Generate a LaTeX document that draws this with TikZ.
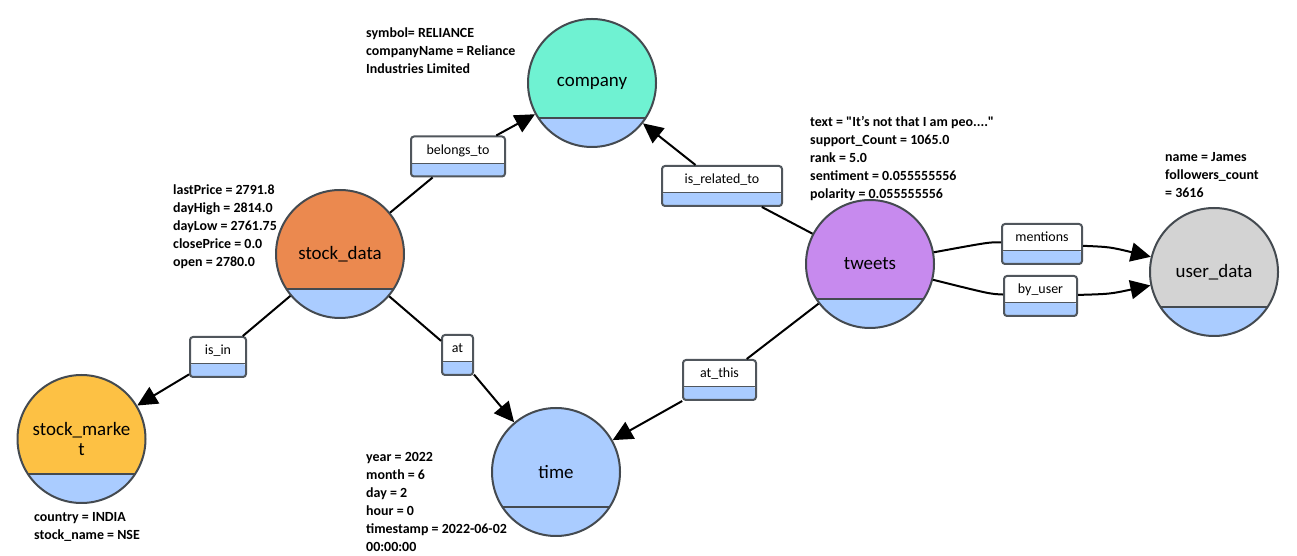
\documentclass[tikz,border=0pt]{standalone}
\usepackage{fontspec}
\setmainfont{Carlito}
\usetikzlibrary{arrows.meta}
\definecolor{bandblue}{HTML}{AACCFF}
\definecolor{nodeline}{HTML}{444A50}
\definecolor{boxline}{HTML}{50565C}
\definecolor{companyfill}{HTML}{6FF2D2}
\definecolor{stockfill}{HTML}{EB894F}
\definecolor{tweetfill}{HTML}{C78AEE}
\definecolor{userfill}{HTML}{D3D3D3}
\definecolor{marketfill}{HTML}{FDC144}
\tikzset{
  entity/.style={circle,draw=nodeline,line width=2bp,minimum size=128bp,inner sep=0pt,
    align=center,font=\fontsize{19}{21}\selectfont,
    path picture={\fill[bandblue] (path picture bounding box.south west) rectangle ([yshift=29bp]path picture bounding box.south east);
      \draw[nodeline,line width=1.2bp] ([yshift=29bp]path picture bounding box.south west) -- ([yshift=29bp]path picture bounding box.south east);}},
  relation/.style={rectangle,rounded corners=3bp,draw=boxline,line width=2bp,fill=white,
    inner sep=0pt,text height=18bp,text depth=22bp,font=\fontsize{14}{16}\selectfont,
    path picture={\fill[bandblue] (path picture bounding box.south west) rectangle ([yshift=13bp]path picture bounding box.south east);
      \draw[boxline,line width=1bp] ([yshift=13bp]path picture bounding box.south west) -- ([yshift=13bp]path picture bounding box.south east);}},
  attr/.style={anchor=north west,inner sep=0pt,align=left,font=\fontsize{14}{18}\selectfont\bfseries},
  link/.style={black,line width=2bp}
}
\begin{document}
\begin{tikzpicture}[>={Triangle[length=20bp,width=19bp]},line join=bevel,]
\fill [white] (0bp,0bp) rectangle (1297bp,556bp);
\useasboundingbox (0bp,0bp) rectangle (1297bp,556bp);
%%
\node (company) at (592bp,473bp) [entity,fill=companyfill] {company};
  \node (stock_data) at (340bp,302bp) [entity,fill=stockfill] {stock\_data};
  \node (tweets) at (870bp,292bp) [entity,fill=tweetfill] {tweets};
  \node (user_data) at (1214bp,284bp) [entity,fill=userfill] {user\_data};
  \node (stock_market) at (81.5bp,117bp) [entity,fill=marketfill] {stock\_marke\\t};
  \node (time) at (556bp,84bp) [entity,fill=bandblue] {time};
%
\node (belongs_to) at (458bp,399.5bp) [relation,minimum width=94bp] {belongs\_to};
  \node (is_related_to) at (722bp,370bp) [relation,minimum width=120bp] {is\_related\_to};
  \node (mentions) at (1042bp,312bp) [relation,minimum width=80bp] {mentions};
  \node (by_user) at (1040.5bp,260bp) [relation,minimum width=73bp] {by\_user};
  \node (is_in) at (218bp,199bp) [relation,minimum width=56bp] {is\_in};
  \node (at) at (457.5bp,201bp) [relation,minimum width=31bp] {at};
  \node (at_this) at (719.5bp,176bp) [relation,minimum width=73bp] {at\_this};
%
\node (company_attr) at (366bp,528bp) [attr] {symbol= RELIANCE\\companyName = Reliance\\Industries Limited};
  \node (stock_data_attr) at (173bp,371bp) [attr] {lastPrice = 2791.8\\dayHigh = 2814.0\\dayLow = 2761.75\\closePrice = 0.0\\open = 2780.0};
  \node (tweets_attr) at (810bp,440bp) [attr] {text = \textquotedbl It’s not that I am peo....\textquotedbl\\support\_Count = 1065.0\\rank = 5.0\\sentiment = 0.055555556\\polarity = 0.055555556};
  \node (user_data_attr) at (1165bp,404bp) [attr] {name = James\\followers\_count\\= 3616};
  \node (stock_market_attr) at (34bp,44bp) [attr] {country = INDIA\\stock\_name = NSE};
  \node (time_attr) at (366bp,104bp) [attr] {year = 2022\\month = 6\\day = 2\\hour = 0\\timestamp = 2022-06-02\\00:00:00};
%
\draw [link] (stock_data) -- (belongs_to);
  \draw [link,->] (belongs_to) -- (company);
  \draw [link] (tweets) -- (is_related_to);
  \draw [link,->] (is_related_to) -- (company);
  \draw [link] (tweets) ..controls (990bp,314bp) .. (mentions);
  \draw [link,->] (mentions) ..controls (1110bp,309bp) .. (user_data);
  \draw [link] (tweets) ..controls (990bp,262bp) .. (by_user);
  \draw [link,->] (by_user) ..controls (1110bp,262bp) .. (user_data);
  \draw [link] (stock_data) -- (is_in);
  \draw [link,->] (is_in) -- (stock_market);
  \draw [link] (stock_data) -- (at);
  \draw [link,->] (at) -- (time);
  \draw [link] (tweets) -- (at_this);
  \draw [link,->] (at_this) -- (time);
%
\end{tikzpicture}
\end{document}
